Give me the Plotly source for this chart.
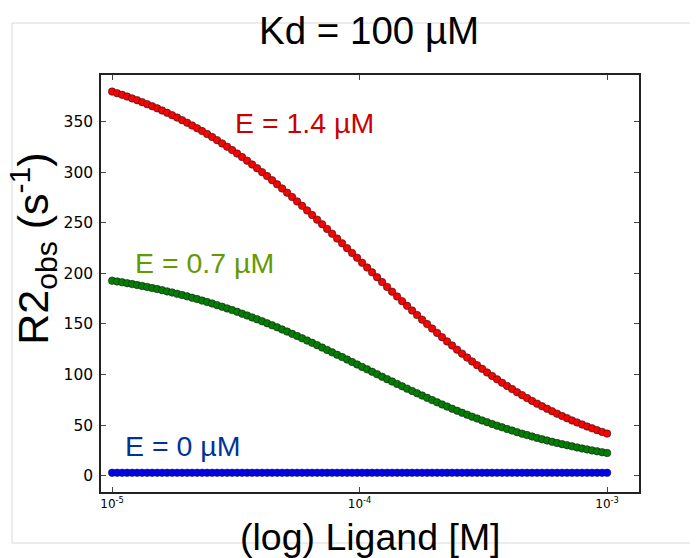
import plotly.graph_objects as go

# Ligand concentration [M]
ligand_M = [
    1.0000e-05, 1.0476e-05, 1.0975e-05, 1.1498e-05, 1.2045e-05, 1.2619e-05, 1.3219e-05, 1.3849e-05, 1.4508e-05, 1.5199e-05,
    1.5923e-05, 1.6681e-05, 1.7475e-05, 1.8307e-05, 1.9179e-05, 2.0092e-05, 2.1049e-05, 2.2051e-05, 2.3101e-05, 2.4201e-05,
    2.5354e-05, 2.6561e-05, 2.7826e-05, 2.9151e-05, 3.0539e-05, 3.1993e-05, 3.3516e-05, 3.5112e-05, 3.6784e-05, 3.8535e-05,
    4.0370e-05, 4.2292e-05, 4.4306e-05, 4.6416e-05, 4.8626e-05, 5.0941e-05, 5.3367e-05, 5.5908e-05, 5.8570e-05, 6.1359e-05,
    6.4281e-05, 6.7342e-05, 7.0548e-05, 7.3907e-05, 7.7426e-05, 8.1113e-05, 8.4975e-05, 8.9022e-05, 9.3260e-05, 9.7701e-05,
    1.0235e-04, 1.0723e-04, 1.1233e-04, 1.1768e-04, 1.2328e-04, 1.2916e-04, 1.3530e-04, 1.4175e-04, 1.4850e-04, 1.5557e-04,
    1.6298e-04, 1.7074e-04, 1.7887e-04, 1.8738e-04, 1.9630e-04, 2.0565e-04, 2.1544e-04, 2.2570e-04, 2.3645e-04, 2.4771e-04,
    2.5950e-04, 2.7186e-04, 2.8480e-04, 2.9836e-04, 3.1257e-04, 3.2745e-04, 3.4305e-04, 3.5938e-04, 3.7649e-04, 3.9442e-04,
    4.1320e-04, 4.3288e-04, 4.5349e-04, 4.7508e-04, 4.9770e-04, 5.2140e-04, 5.4623e-04, 5.7224e-04, 5.9948e-04, 6.2803e-04,
    6.5793e-04, 6.8926e-04, 7.2208e-04, 7.5646e-04, 7.9248e-04, 8.3022e-04, 8.6975e-04, 9.1116e-04, 9.5455e-04, 1.0000e-03,
]

# R2obs (s^-1), E = 1.4 uM
r2_E14 = [
    379.6, 378.0, 376.4, 374.7, 372.9, 371.1, 369.2, 367.2, 365.2, 363.1,
    360.9, 358.6, 356.3, 353.9, 351.4, 348.8, 346.1, 343.4, 340.6, 337.7,
    334.7, 331.6, 328.4, 325.2, 321.8, 318.4, 314.9, 311.3, 307.6, 303.9,
    300.0, 296.1, 292.1, 288.0, 283.9, 279.7, 275.4, 271.1, 266.7, 262.2,
    257.7, 253.1, 248.5, 243.9, 239.2, 234.4, 229.7, 224.9, 220.1, 215.4,
    210.5, 205.8, 201.0, 196.2, 191.4, 186.6, 181.9, 177.2, 172.5, 167.9,
    163.3, 158.8, 154.3, 149.9, 145.5, 141.2, 136.9, 132.8, 128.7, 124.6,
    120.7, 116.8, 113.0, 109.3, 105.7, 102.1, 98.7, 95.3, 92.0, 88.8,
    85.7, 82.6, 79.7, 76.8, 74.0, 71.3, 68.7, 66.2, 63.8, 61.4,
    59.1, 56.9, 54.7, 52.7, 50.7, 48.7, 46.9, 45.1, 43.4, 41.7,
]

# R2obs (s^-1), E = 0.7 uM
r2_E07 = [
    192.8, 192.0, 191.2, 190.3, 189.4, 188.5, 187.6, 186.6, 185.5, 184.5,
    183.4, 182.2, 181.1, 179.8, 178.6, 177.3, 175.9, 174.6, 173.1, 171.7,
    170.2, 168.6, 167.0, 165.4, 163.7, 162.0, 160.2, 158.4, 156.5, 154.6,
    152.7, 150.7, 148.7, 146.7, 144.6, 142.5, 140.3, 138.1, 135.9, 133.6,
    131.4, 129.1, 126.7, 124.4, 122.0, 119.6, 117.3, 114.9, 112.4, 110.0,
    107.6, 105.2, 102.8, 100.4, 97.9, 95.5, 93.2, 90.8, 88.4, 86.1,
    83.8, 81.5, 79.3, 77.0, 74.8, 72.6, 70.5, 68.4, 66.3, 64.3,
    62.3, 60.4, 58.4, 56.6, 54.7, 53.0, 51.2, 49.5, 47.9, 46.2,
    44.7, 43.1, 41.6, 40.2, 38.8, 37.4, 36.1, 34.9, 33.6, 32.4,
    31.3, 30.2, 29.1, 28.0, 27.0, 26.1, 25.1, 24.2, 23.3, 22.5,
]

# R2obs (s^-1), E = 0 uM
r2_E0 = [
    3.0, 3.0, 3.0, 3.0, 3.0, 3.0, 3.0, 3.0, 3.0, 3.0,
    3.0, 3.0, 3.0, 3.0, 3.0, 3.0, 3.0, 3.0, 3.0, 3.0,
    3.0, 3.0, 3.0, 3.0, 3.0, 3.0, 3.0, 3.0, 3.0, 3.0,
    3.0, 3.0, 3.0, 3.0, 3.0, 3.0, 3.0, 3.0, 3.0, 3.0,
    3.0, 3.0, 3.0, 3.0, 3.0, 3.0, 3.0, 3.0, 3.0, 3.0,
    3.0, 3.0, 3.0, 3.0, 3.0, 3.0, 3.0, 3.0, 3.0, 3.0,
    3.0, 3.0, 3.0, 3.0, 3.0, 3.0, 3.0, 3.0, 3.0, 3.0,
    3.0, 3.0, 3.0, 3.0, 3.0, 3.0, 3.0, 3.0, 3.0, 3.0,
    3.0, 3.0, 3.0, 3.0, 3.0, 3.0, 3.0, 3.0, 3.0, 3.0,
    3.0, 3.0, 3.0, 3.0, 3.0, 3.0, 3.0, 3.0, 3.0, 3.0,
]

series_labels = ["E = 1.4 µM", "E = 0.7 µM", "E = 0 µM"]
y_ticks = [0, 50, 100, 150, 200, 250, 300, 350]
x_ticks = [1e-5, 1e-4, 1e-3]
x_ticktext = ["10<sup>-5</sup>", "10<sup>-4</sup>", "10<sup>-3</sup>"]

FONT = "Liberation Sans, Arial, Helvetica, sans-serif"
TICKFONT = "DejaVu Sans, sans-serif"

fig = go.Figure()
for ys, fill in [(r2_E14, "#ff0000"), (r2_E07, "#008000"), (r2_E0, "#0000ff")]:
    fig.add_trace(go.Scatter(
        x=ligand_M, y=ys, mode="markers",
        marker=dict(size=7.5, color=fill, line=dict(color="#1a1a1a", width=0.6)),
        showlegend=False, cliponaxis=False,
    ))

axis_common = dict(
    showline=True, linecolor="#222222", linewidth=1.5, mirror="ticks",
    ticks="inside", ticklen=5, tickwidth=1, tickcolor="#444444",
    showgrid=False, zeroline=False,
)

fig.update_xaxes(
    type="log", range=[-5.045, -2.871], tickvals=x_ticks, ticktext=x_ticktext,
    tickfont=dict(family=TICKFONT, size=12, color="#000"), **axis_common,
)
fig.update_yaxes(
    range=[-16, 396], tickvals=y_ticks, ticklabelstandoff=3,
    tickfont=dict(family=TICKFONT, size=15.5, color="#000"), **axis_common,
)

annotations = [
    dict(text=series_labels[0], x=-4.5105, y=348.7, xanchor="left", yanchor="middle",
         font=dict(family=FONT, size=28.5, color="#cc0000")),
    dict(text=series_labels[1], x=-4.914, y=210.4, xanchor="left", yanchor="middle",
         font=dict(family=FONT, size=28.5, color="#669900")),
    dict(text=series_labels[2], x=-4.958, y=29.5, xanchor="left", yanchor="middle",
         font=dict(family=FONT, size=28.5, color="#003399")),
    dict(text="Kd = 100 µM", xref="paper", yref="paper", x=0.498, y=1.107,
         xanchor="center", yanchor="middle", font=dict(family=FONT, size=38.5, color="#000")),
    dict(text="(log) Ligand [M]", xref="paper", yref="paper", x=0.5, y=-0.108,
         xanchor="center", yanchor="middle", font=dict(family=FONT, size=37.5, color="#000")),
    dict(text="R2<sub>obs</sub> (s<sup>-1</sup>)", xref="paper", yref="paper", x=-0.126, y=0.584,
         xanchor="center", yanchor="middle", textangle=-90,
         font=dict(family=FONT, size=43, color="#000")),
]
for a in annotations:
    a.setdefault("showarrow", False)
fig.update_layout(annotations=annotations)

fig.add_shape(type="rect", xref="paper", yref="paper",
              x0=-0.1654, x1=1.2, y0=-0.1223, y1=1.1247,
              line=dict(color="#d8d8d8", width=1), layer="below")

# page body adds an 8px offset; margins compensate so the plot area lands at x 101-639, y 75-492
fig.update_layout(
    width=698, height=558,
    margin=dict(l=93, r=67, t=67, b=74),
    paper_bgcolor="white", plot_bgcolor="white",
    showlegend=False,
)

fig.write_html("out.html")
